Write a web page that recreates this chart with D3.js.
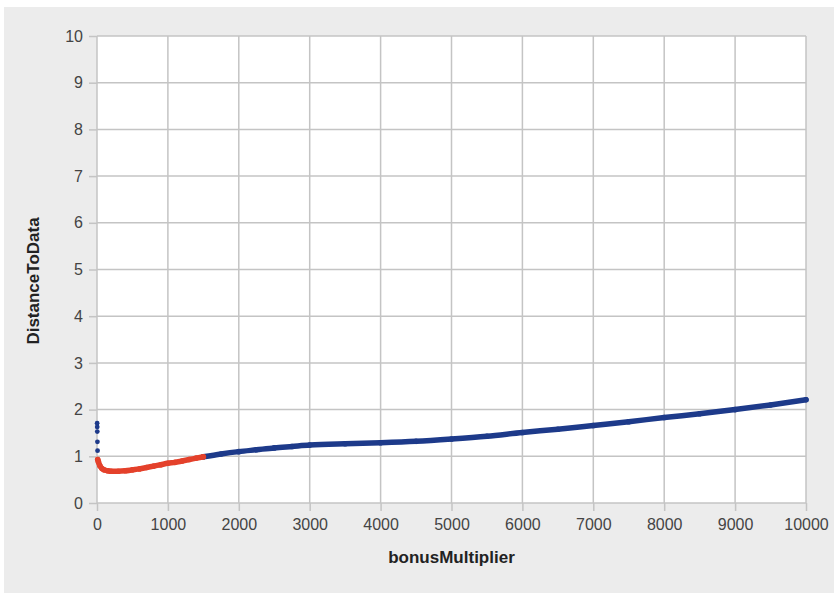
<!DOCTYPE html>
<html>
<head>
<meta charset="utf-8">
<script src="https://cdn.jsdelivr.net/npm/d3@7"></script>
<style>
  body { margin: 0; background: #fff; }
  svg { display: block; }
  .tick text { font-family: Arial, "Liberation Sans", sans-serif; font-size: 16px; fill: #444; }
  .title { font-family: Arial, "Liberation Sans", sans-serif; font-size: 17px; font-weight: bold; fill: #222; }
</style>
</head>
<body>
<svg id="chart"></svg>
<script>
// Tick labels
const xTicks = [0, 1000, 2000, 3000, 4000, 5000, 6000, 7000, 8000, 9000, 10000];
const yTicks = [0, 1, 2, 3, 4, 5, 6, 7, 8, 9, 10];

// first few blue points sitting right at x ~ 0
const earlyX = [2, 3, 4, 6, 8];
const earlyY = [1.71, 1.63, 1.53, 1.31, 1.12];

// red series (low bonusMultiplier)
const redX = [10, 20, 40, 70, 100, 150, 200, 300, 400, 500, 600, 700, 800, 900, 1000, 1100, 1200, 1300, 1400, 1500];
const redY = [0.93, 0.88, 0.80, 0.74, 0.71, 0.69, 0.68, 0.68, 0.69, 0.71, 0.73, 0.76, 0.79, 0.82, 0.85, 0.87, 0.90, 0.93, 0.96, 0.99];

// blue series (rest of the range)
const blueX = [1500, 1750, 2000, 2250, 2500, 2750, 3000, 3500, 4000, 4500, 5000, 5500, 6000, 6500, 7000, 7500, 8000, 8500, 9000, 9500, 10000];
const blueY = [0.99, 1.05, 1.10, 1.14, 1.18, 1.21, 1.24, 1.27, 1.29, 1.32, 1.37, 1.43, 1.51, 1.58, 1.66, 1.74, 1.83, 1.91, 2.00, 2.10, 2.21];

const W = 834, H = 596;
const margin = { top: 36, right: 28, bottom: 93, left: 97 };
const width = W - margin.left - margin.right;
const height = H - margin.top - margin.bottom;

const svg = d3.select("#chart").attr("width", W).attr("height", H);

// grey panel behind everything
svg.append("rect")
    .attr("x", 4).attr("y", 7)
    .attr("width", W - 4).attr("height", 586)
    .attr("fill", "#ececec");

const g = svg.append("g")
    .attr("transform", `translate(${margin.left},${margin.top})`);

const x = d3.scaleLinear().domain([0, 10000]).range([0, width]);
const y = d3.scaleLinear().domain([0, 10]).range([height, 0]);

g.append("rect")
    .attr("width", width).attr("height", height)
    .attr("fill", "#fff");

// gridlines
g.append("g").selectAll("line")
    .data(xTicks)
    .join("line")
    .attr("x1", d => x(d)).attr("x2", d => x(d))
    .attr("y1", 0).attr("y2", height)
    .attr("stroke", "#c4c4c4").attr("stroke-width", 1.5);

g.append("g").selectAll("line")
    .data(yTicks)
    .join("line")
    .attr("x1", 0).attr("x2", width)
    .attr("y1", d => y(d)).attr("y2", d => y(d))
    .attr("stroke", "#c4c4c4").attr("stroke-width", 1.5);

const xAxis = d3.axisBottom(x).tickValues(xTicks).tickSize(8).tickPadding(8).tickFormat(d3.format("d"));
const yAxis = d3.axisLeft(y).tickValues(yTicks).tickSize(8).tickPadding(6).tickFormat(d3.format("d"));

const gx = g.append("g").attr("transform", `translate(0,${height})`).call(xAxis);
const gy = g.append("g").call(yAxis);
[gx, gy].forEach(a => {
    a.select(".domain").remove();
    a.selectAll(".tick line").attr("stroke", "#c4c4c4").attr("stroke-width", 1.5);
});

// series
const line = d3.line()
    .x(d => x(d[0]))
    .y(d => y(d[1]))
    .curve(d3.curveMonotoneX);

const blue = "#1d3a8a";
const red = "#e4412b";

const series = [
    { xs: blueX, ys: blueY, color: blue },
    { xs: redX, ys: redY, color: red }
];

series.forEach(s => {
    const pts = s.xs.map((v, i) => [v, s.ys[i]]);
    g.append("path")
        .datum(pts)
        .attr("fill", "none")
        .attr("stroke", s.color)
        .attr("stroke-width", 5.5)
        .attr("stroke-linecap", "round")
        .attr("d", line);
    g.append("g").selectAll("circle")
        .data(pts)
        .join("circle")
        .attr("cx", d => x(d[0]))
        .attr("cy", d => y(d[1]))
        .attr("r", 2.8)
        .attr("fill", s.color);
});

g.append("g").selectAll("circle")
    .data(earlyX.map((v, i) => [v, earlyY[i]]))
    .join("circle")
    .attr("cx", d => x(d[0]))
    .attr("cy", d => y(d[1]))
    .attr("r", 2.4)
    .attr("fill", blue);

// axis titles
svg.append("text")
    .attr("class", "title")
    .attr("x", margin.left + width / 2)
    .attr("y", 563)
    .attr("text-anchor", "middle")
    .text("bonusMultiplier");

svg.append("text")
    .attr("class", "title")
    .attr("transform", "translate(33,281) rotate(-90)")
    .attr("text-anchor", "middle")
    .attr("dy", "0.35em")
    .text("DistanceToData");
</script>
</body>
</html>
